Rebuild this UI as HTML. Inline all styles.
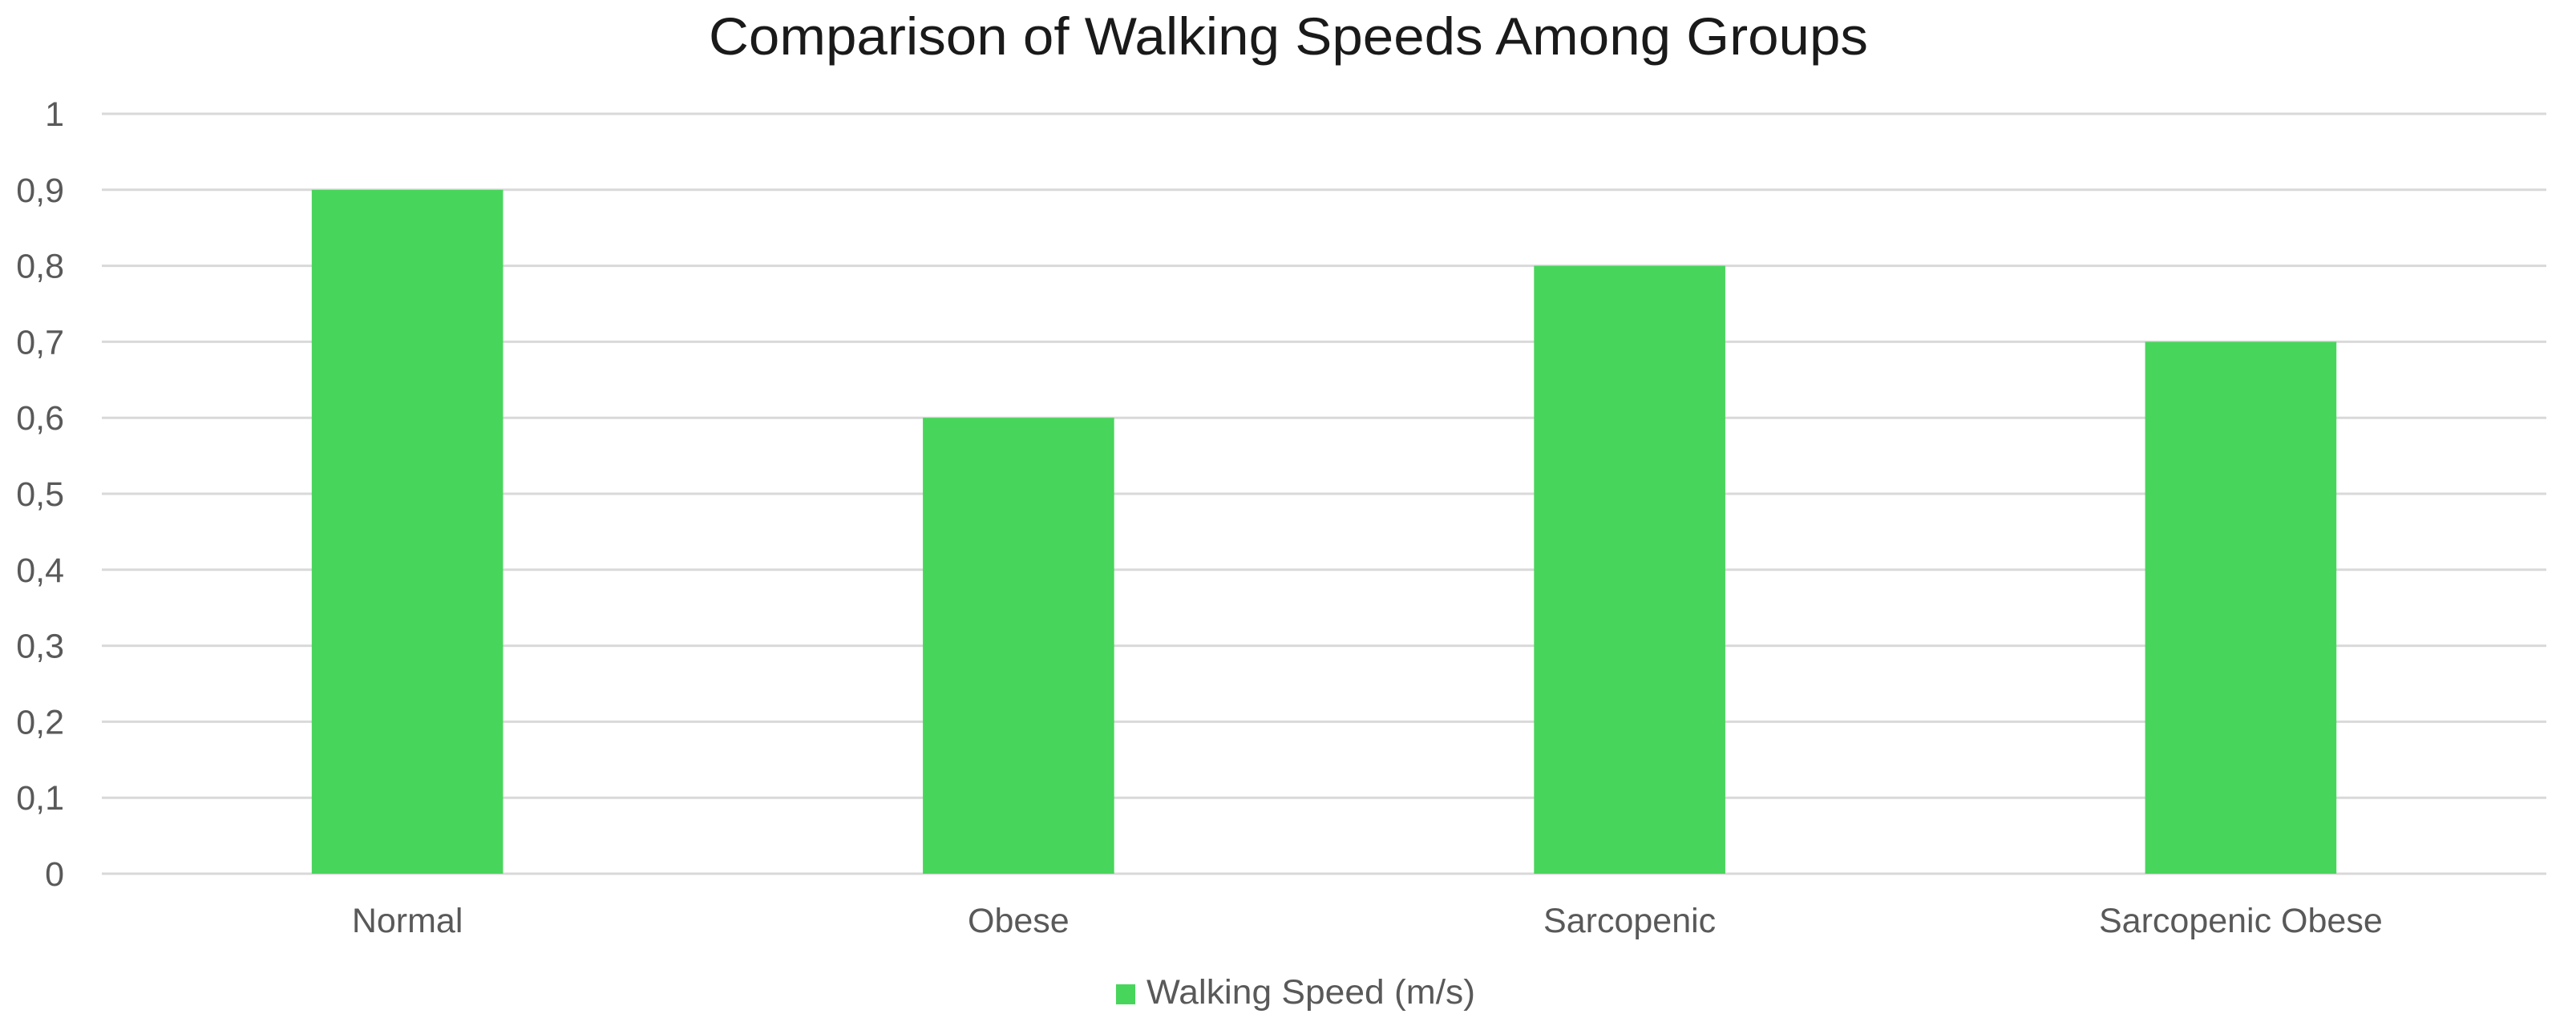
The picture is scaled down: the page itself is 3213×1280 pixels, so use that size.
<!DOCTYPE html>
<html><head><meta charset="utf-8"><style>
html,body{margin:0;padding:0;background:#fff;}
svg{display:block;font-family:"Liberation Sans",sans-serif;}
</style></head><body>
<svg id="chart" width="3213" height="1280" viewBox="0 0 3213 1280">
<rect width="3213" height="1280" fill="#fff"/>
<text x="1607" y="68" text-anchor="middle" font-size="66" fill="#1a1a1a" textLength="1446" lengthAdjust="spacingAndGlyphs">Comparison of Walking Speeds Among Groups</text>
<g id="grid"></g>
<g id="yticks"></g>
<g id="bars"></g>
<g id="xlabels"></g>
<g>
<rect x="1392" y="1228" width="24" height="25" fill="#48d55b"/>
<text x="1430" y="1252" font-size="43" fill="#595959" textLength="410" lengthAdjust="spacingAndGlyphs">Walking Speed (m/s)</text>
</g>
</svg>
<script>
const categories = ["Normal", "Obese", "Sarcopenic", "Sarcopenic Obese"];
const speeds = [0.9, 0.6, 0.8, 0.7];
const tickValues = [0, 0.1, 0.2, 0.3, 0.4, 0.5, 0.6, 0.7, 0.8, 0.9, 1];
const tickLabels = ["0", "0,1", "0,2", "0,3", "0,4", "0,5", "0,6", "0,7", "0,8", "0,9", "1"];

const NS = "http://www.w3.org/2000/svg";
const plotL = 127, plotR = 3176, plotTop = 142, plotBot = 1090;
const yMax = 1;
function yScale(v){ return plotBot - (v / yMax) * (plotBot - plotTop); }
const band = (plotR - plotL) / categories.length;
function xCenter(i){ return plotL + band * (i + 0.5); }
const barW = band * 0.313;

const grid = document.getElementById('grid');
const yt = document.getElementById('yticks');
tickValues.forEach((v, i) => {
  const y = yScale(v);
  const l = document.createElementNS(NS, 'line');
  l.setAttribute('x1', plotL); l.setAttribute('x2', plotR);
  l.setAttribute('y1', y); l.setAttribute('y2', y);
  l.setAttribute('stroke', '#d9d9d9'); l.setAttribute('stroke-width', '3');
  
  
  grid.appendChild(l);
  const t = document.createElementNS(NS, 'text');
  t.setAttribute('x', 80); t.setAttribute('y', y + 15);
  t.setAttribute('text-anchor', 'end'); t.setAttribute('font-size', '43');
  t.setAttribute('fill', '#595959');
  t.textContent = tickLabels[i];
  
  
  yt.appendChild(t);
});

const bars = document.getElementById('bars');
const xl = document.getElementById('xlabels');
categories.forEach((c, i) => {
  const r = document.createElementNS(NS, 'rect');
  const y = yScale(speeds[i]);
  r.setAttribute('x', xCenter(i) - barW / 2); r.setAttribute('y', y);
  r.setAttribute('width', barW); r.setAttribute('height', plotBot - y);
  r.setAttribute('fill', '#48d55b');
  
  
  bars.appendChild(r);
  const t = document.createElementNS(NS, 'text');
  t.setAttribute('x', xCenter(i)); t.setAttribute('y', 1163);
  t.setAttribute('text-anchor', 'middle'); t.setAttribute('font-size', '43');
  t.setAttribute('fill', '#595959');
  t.textContent = c;
  
  
  xl.appendChild(t);
});
</script>
</body></html>
